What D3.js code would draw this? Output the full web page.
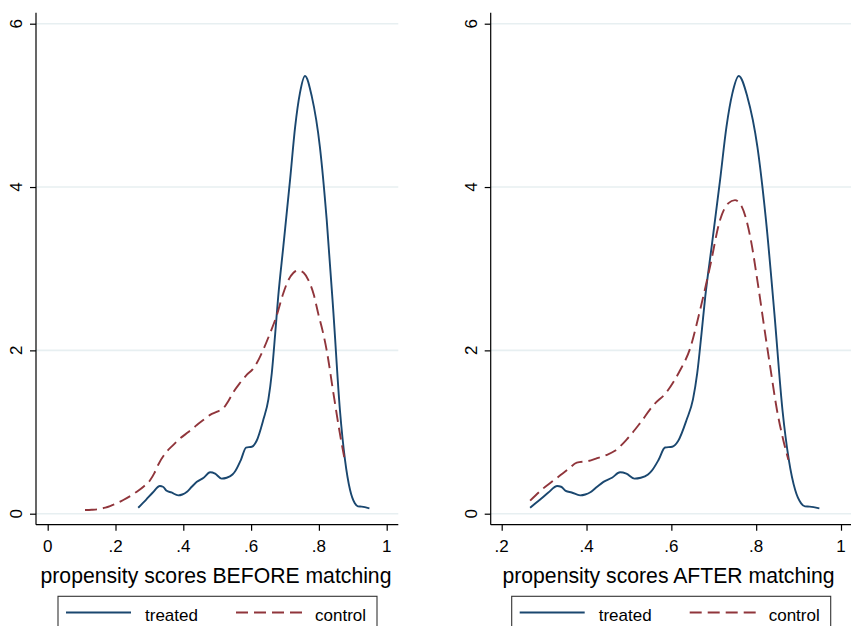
<!DOCTYPE html>
<html>
<head>
<meta charset="utf-8">
<script src="https://cdn.jsdelivr.net/npm/d3@7"></script>
<style>
  html, body { margin: 0; padding: 0; background: #ffffff; }
  svg { display: block; }
  text { font-family: "Liberation Sans", Arial, sans-serif; fill: #000; }
</style>
</head>
<body>
<svg id="chart" width="851" height="626"></svg>
<script>
// ---------- data ----------
const yTickValues = [0, 2, 4, 6];
const yTickLabels = ["0", "2", "4", "6"];

const xTicksBefore = [0, 0.2, 0.4, 0.6, 0.8, 1];
const xTickLabelsBefore = ["0", ".2", ".4", ".6", ".8", "1"];
const xTicksAfter = [0.2, 0.4, 0.6, 0.8, 1];
const xTickLabelsAfter = [".2", ".4", ".6", ".8", "1"];

const seriesNames = ["treated", "control"];
const titleBefore = "propensity scores BEFORE matching";
const titleAfter = "propensity scores AFTER matching";

// treated density (same sample in both panels)
const treatedScore = [0.267,0.29,0.31,0.331,0.34,0.351,0.365,0.385,0.397,0.41,0.425,0.44,0.46,0.479,0.494,0.513,0.528,0.545,0.553,0.57,0.585,0.602,0.616,0.636,0.651,0.661,0.671,0.68,0.695,0.715,0.73,0.744,0.759,0.779,0.803,0.823,0.843,0.862,0.877,0.892,0.906,0.915,0.926,0.949];
const treatedDensity = [0.073,0.17,0.26,0.339,0.33,0.28,0.26,0.225,0.235,0.266,0.33,0.39,0.44,0.507,0.49,0.43,0.44,0.48,0.52,0.66,0.81,0.82,0.89,1.15,1.4,1.72,2.2,2.66,3.27,4.09,4.74,5.15,5.36,5.11,4.49,3.6,2.45,1.27,0.66,0.29,0.127,0.09,0.086,0.066];

// control density before matching
const controlBeforeScore = [0.110,0.13,0.149,0.17,0.184,0.2,0.223,0.245,0.263,0.285,0.302,0.315,0.326,0.351,0.37,0.39,0.415,0.44,0.46,0.479,0.5,0.518,0.533,0.548,0.567,0.587,0.605,0.616,0.635,0.655,0.675,0.695,0.71,0.725,0.739,0.755,0.769,0.785,0.798,0.812,0.823,0.843,0.862,0.877];
const controlBeforeDensity = [0.045,0.048,0.055,0.075,0.094,0.12,0.168,0.22,0.27,0.34,0.41,0.5,0.6,0.76,0.84,0.92,1.0,1.086,1.15,1.21,1.25,1.29,1.38,1.49,1.6,1.7,1.77,1.84,2.0,2.2,2.42,2.7,2.86,2.95,2.98,2.95,2.86,2.68,2.45,2.22,2.0,1.47,0.98,0.64];

// control density after matching
const controlAfterScore = [0.267,0.298,0.318,0.338,0.358,0.377,0.404,0.425,0.448,0.467,0.495,0.526,0.558,0.589,0.62,0.644,0.668,0.691,0.715,0.734,0.75,0.766,0.786,0.805,0.821,0.833,0.849,0.864,0.876];
const controlAfterDensity = [0.16,0.31,0.39,0.47,0.55,0.625,0.645,0.68,0.72,0.77,0.91,1.107,1.33,1.49,1.75,2.02,2.5,3.02,3.6,3.8,3.84,3.76,3.39,2.78,2.21,1.8,1.27,0.9,0.66];

// ---------- styles ----------
const NAVY = "#1a476f";
const MAROON = "#90353b";
const GRID = "#e7eff1";

const svg = d3.select("#chart");

const panels = [
  {
    plotLeft: 36, plotRight: 398.3,
    xDomain: [0, 1], xRange: [47.7, 386.7],
    ticks: xTicksBefore, tickLabels: xTickLabelsBefore,
    title: titleBefore, titleX: 216,
    controlX: controlBeforeScore, controlY: controlBeforeDensity,
    legendLeft: 58
  },
  {
    plotLeft: 490.7, plotRight: 851,
    xDomain: [0.2, 1], xRange: [501.7, 841],
    ticks: xTicksAfter, tickLabels: xTickLabelsAfter,
    title: titleAfter, titleX: 668.5,
    controlX: controlAfterScore, controlY: controlAfterDensity,
    legendLeft: 511.7
  }
];

const plotTop = 12.7, plotBottom = 524.7;
const y = d3.scaleLinear().domain([0, 6]).range([513.7, 23.7]);

panels.forEach(p => {
  const x = d3.scaleLinear().domain(p.xDomain).range(p.xRange);
  const g = svg.append("g");

  // grid lines
  g.selectAll("line.grid").data(yTickValues).enter().append("line")
    .attr("x1", p.plotLeft).attr("x2", p.plotRight)
    .attr("y1", d => y(d)).attr("y2", d => y(d))
    .attr("stroke", GRID).attr("stroke-width", 1.6);

  // curves
  const line = d3.line().x(d => x(d[0])).y(d => y(d[1])).curve(d3.curveMonotoneX);
  const treated = d3.zip(treatedScore, treatedDensity);
  const control = d3.zip(p.controlX, p.controlY);

  g.append("path").datum(treated).attr("d", line)
    .attr("fill", "none").attr("stroke", NAVY).attr("stroke-width", 1.9)
    .attr("stroke-linejoin", "round");
  g.append("path").datum(control).attr("d", line)
    .attr("fill", "none").attr("stroke", MAROON).attr("stroke-width", 1.9)
    .attr("stroke-dasharray", "12,6");

  // y axis
  const yAxis = d3.axisLeft(y).tickValues(yTickValues).tickSize(6).tickFormat("");
  const ya = g.append("g").attr("transform", `translate(${p.plotLeft},0)`).call(yAxis);
  ya.select(".domain").attr("d", `M0,${plotTop}V${plotBottom}`).attr("stroke", "#000").attr("stroke-width", 1.2);
  ya.selectAll(".tick line").attr("stroke", "#000").attr("stroke-width", 1.2);
  g.selectAll("text.ylab").data(yTickValues).enter().append("text")
    .attr("class", "ylab")
    .attr("transform", d => `translate(${p.plotLeft - 14},${y(d)}) rotate(-90)`)
    .attr("text-anchor", "middle")
    .attr("font-size", 17)
    .text((d, i) => yTickLabels[i]);

  // x axis
  const xAxis = d3.axisBottom(x).tickValues(p.ticks).tickSize(6).tickFormat("");
  const xa = g.append("g").attr("transform", `translate(0,${plotBottom})`).call(xAxis);
  xa.select(".domain").attr("d", `M${p.plotLeft},0H${p.plotRight}`).attr("stroke", "#000").attr("stroke-width", 1.2);
  xa.selectAll(".tick line").attr("stroke", "#000").attr("stroke-width", 1.2);
  g.selectAll("text.xlab").data(p.ticks).enter().append("text")
    .attr("class", "xlab")
    .attr("x", d => x(d)).attr("y", 552.3)
    .attr("text-anchor", "middle")
    .attr("font-size", 17)
    .text((d, i) => p.tickLabels[i]);

  // x title
  g.append("text").attr("x", p.titleX).attr("y", 583)
    .attr("text-anchor", "middle").attr("font-size", 21.2)
    .text(p.title);

  // legend
  const L = p.legendLeft;
  const lg = g.append("g");
  lg.append("rect").attr("x", L).attr("y", 596.3).attr("width", 319).attr("height", 60)
    .attr("fill", "#fff").attr("stroke", "#333").attr("stroke-width", 1.1);
  lg.append("line").attr("x1", L + 8).attr("x2", L + 73).attr("y1", 612.5).attr("y2", 612.5)
    .attr("stroke", NAVY).attr("stroke-width", 1.9);
  lg.append("text").attr("x", L + 87).attr("y", 620.5).attr("font-size", 17).text(seriesNames[0]);
  lg.append("line").attr("x1", L + 178).attr("x2", L + 244).attr("y1", 612.5).attr("y2", 612.5)
    .attr("stroke", MAROON).attr("stroke-width", 1.9).attr("stroke-dasharray", "12,6");
  lg.append("text").attr("x", L + 257).attr("y", 620.5).attr("font-size", 17).text(seriesNames[1]);
});
</script>
</body>
</html>
